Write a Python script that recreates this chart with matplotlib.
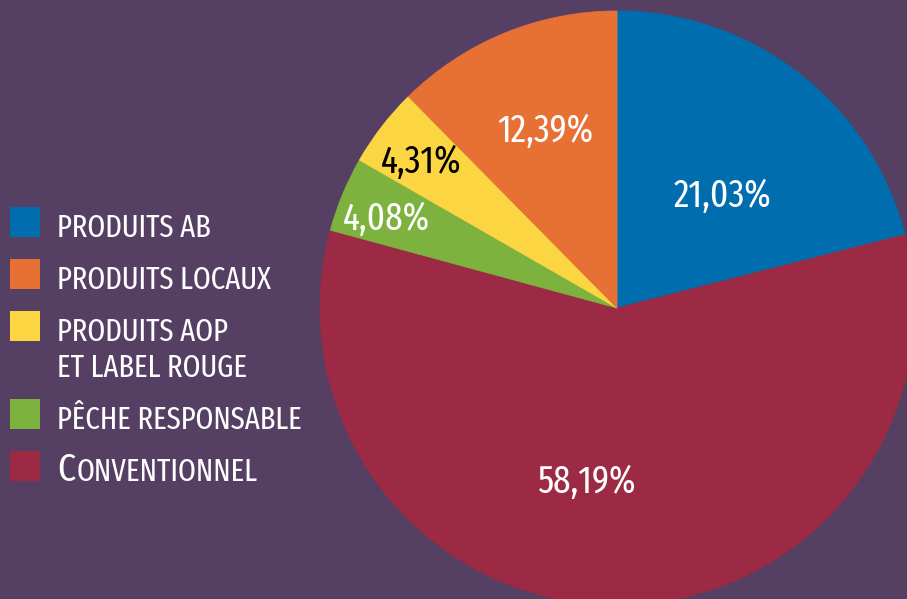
import os
import matplotlib
matplotlib.use("Agg")
import matplotlib.pyplot as plt
from matplotlib import font_manager
from matplotlib.patches import Rectangle

W, H = 907, 599
BG = "#553F63"

# pie data, clockwise from 12 o'clock
slices = ["Produits AB", "Conventionnel", "Pêche responsable",
          "Produits AOP et Label Rouge", "Produits locaux"]
values = [21.03, 58.19, 4.08, 4.31, 12.39]
colors = ["#006EAE", "#9C2A44", "#7DB23E", "#FBD642", "#E77035"]
text_colors = ["white", "white", "white", "black", "white"]

# legend (top to bottom)
legend_idx = [0, 4, 3, 2, 1]
legend_text = ["PRODUITS AB", "PRODUITS LOCAUX", "PRODUITS AOP\nET LABEL ROUGE",
               "PÊCHE RESPONSABLE", "CONVENTIONNEL"]


def pick_font():
    # look for a narrow sans face of regular weight, the narrower the better
    best = None
    for f in font_manager.fontManager.ttflist:
        s = (f.name + " " + os.path.basename(f.fname)).lower().replace("-", "")
        if f.style != "normal" or "italic" in s or "mono" in s:
            continue
        if "serif" in s and "sans" not in s:
            continue
        if "extracondensed" in s or "extra condensed" in s:
            score = 0
        elif "semicondensed" in s or "semi condensed" in s:
            score = 200
        elif "ultracondensed" in s:
            score = 120
        elif "condensed" in s or "narrow" in s:
            score = 60
        else:
            continue
        for word, pen in [("bold", 80), ("black", 120), ("heavy", 120),
                          ("medium", 30), ("light", 60), ("thin", 100)]:
            if word in s:
                score += pen
        if best is None or score < best[0]:
            best = (score, f.fname)
    if best is None:
        return font_manager.FontProperties(family="DejaVu Sans")
    return font_manager.FontProperties(fname=best[1])


def main():
    fp = pick_font()

    def font(size):
        p = fp.copy()
        p.set_size(size)
        return p

    fig = plt.figure(figsize=(W / 100, H / 100), dpi=100, facecolor=BG)
    ax = fig.add_axes([0, 0, 1, 1])
    ax.set_facecolor(BG)

    # pie, pixel coordinates with y going up
    cx, cy, r = 617, H - 308, 297
    wedges, _ = ax.pie(values, colors=colors, startangle=90, counterclock=False,
                       center=(cx, cy), radius=r, wedgeprops=dict(linewidth=0.6))
    for w, c in zip(wedges, colors):
        w.set_edgecolor(c)  # hide the seams between slices
    ax.set_xlim(0, W)
    ax.set_ylim(0, H)
    ax.set_aspect("equal", adjustable="box")
    ax.axis("off")

    renderer = fig.canvas.get_renderer()

    def fit(sample, width_px, size_max):
        # largest size that keeps sample within the target width
        t = ax.text(0, 0, sample, fontproperties=font(20))
        w = t.get_window_extent(renderer).width
        t.remove()
        return min(size_max, 20 * width_px / w)

    lab_size = fit("21,03%", 98, 28)
    leg_size = fit("PÊCHE RESPONSABLE", 245, 25)

    # value labels (center x, baseline y in image pixels)
    label_pos = [(722, 207), (586, 493), (386, 230), (421, 173), (545, 142)]
    for v, c, (x, y) in zip(values, text_colors, label_pos):
        txt = f"{v:.2f}".replace(".", ",") + "%"
        ax.text(x, H - y, txt, ha="center", va="baseline", color=c,
                fontproperties=font(lab_size))

    # legend
    sq_top = [207, 259, 311, 399, 451]
    for k, (i, lab) in enumerate(zip(legend_idx, legend_text)):
        top = sq_top[k]
        ax.add_patch(Rectangle((10, H - top - 30), 30, 30, color=colors[i], lw=0))
        base = H - (top + 30)
        if lab == "CONVENTIONNEL":
            t = ax.text(57, base, "C", ha="left", va="baseline", color="white",
                        fontproperties=font(leg_size * 1.25))
            x1 = t.get_window_extent(renderer).x1
            x1 = ax.transData.inverted().transform((x1, 0))[0]
            ax.text(x1 + 1, base, "ONVENTIONNEL", ha="left", va="baseline",
                    color="white", fontproperties=font(leg_size))
        elif "\n" in lab:
            l1, l2 = lab.split("\n")
            ax.text(57, base, l1, ha="left", va="baseline", color="white",
                    fontproperties=font(leg_size))
            ax.text(57, base - 36, l2, ha="left", va="baseline", color="white",
                    fontproperties=font(leg_size))
        else:
            ax.text(57, base, lab, ha="left", va="baseline", color="white",
                    fontproperties=font(leg_size))

    fig.savefig("out.png", dpi=100, facecolor=BG)


if __name__ == "__main__":
    main()
